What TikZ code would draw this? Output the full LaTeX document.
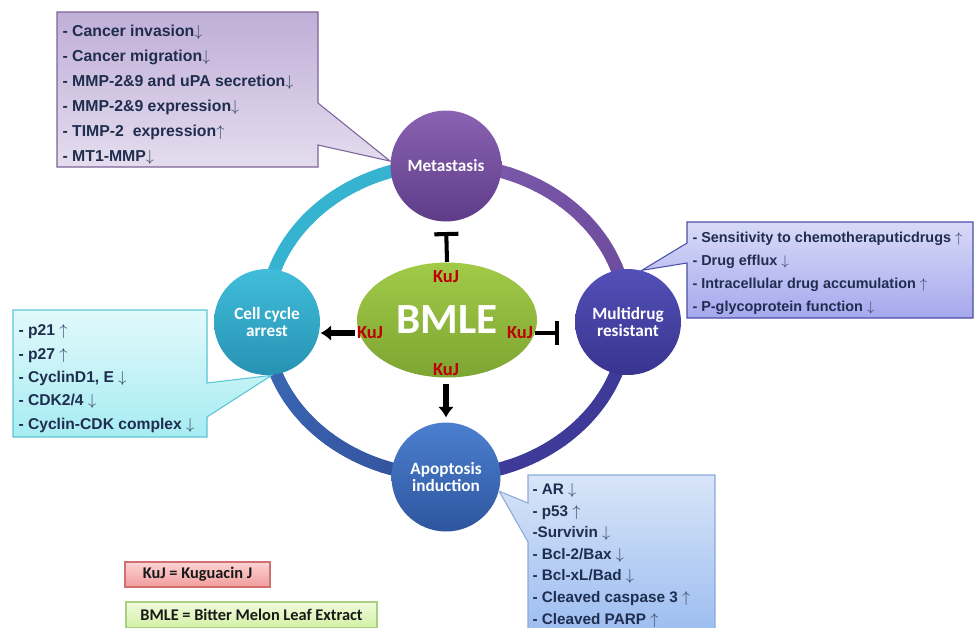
\documentclass[tikz,border=0pt]{standalone}
\usepackage{fontspec}
\setmainfont{Liberation Sans}
\newfontfamily\calibfont{Carlito}
\usepackage{tikz}
\usetikzlibrary{positioning}
\usetikzlibrary{shapes.geometric,arrows.meta}

\definecolor{ringteal}{HTML}{36B3CF}
\definecolor{ringpurple}{HTML}{7D5AAB}
\definecolor{ringpurpleb}{HTML}{6A4A9C}
\definecolor{ringindigo}{HTML}{3D3A98}
\definecolor{ringblue}{HTML}{3B6AB6}
\definecolor{ringblueb}{HTML}{34509C}
\definecolor{metlight}{HTML}{8A63B2}
\definecolor{metdark}{HTML}{5E3C88}
\definecolor{ccalight}{HTML}{40BDDA}
\definecolor{ccadark}{HTML}{2792B3}
\definecolor{mdrlight}{HTML}{5250B8}
\definecolor{mdrdark}{HTML}{38348E}
\definecolor{apolight}{HTML}{4B80CF}
\definecolor{apodark}{HTML}{2E559E}
\definecolor{bmlelight}{HTML}{A2CA48}
\definecolor{bmledark}{HTML}{7DA532}
\definecolor{kujred}{HTML}{C00000}
\definecolor{itemtext}{HTML}{1F2D4E}
\definecolor{arrowcol}{HTML}{3C4C6C}
\definecolor{metedge}{HTML}{7E6399}
\definecolor{metboxtop}{HTML}{C0AED7}
\definecolor{metboxbot}{HTML}{E4DDEE}
\definecolor{mdredge}{HTML}{4B4FA8}
\definecolor{mdrboxtop}{HTML}{D8DAF8}
\definecolor{mdrboxbot}{HTML}{A6A8EE}
\definecolor{ccaedge}{HTML}{5BC4D4}
\definecolor{ccaboxtop}{HTML}{E2F9FB}
\definecolor{ccaboxbot}{HTML}{A6ECF2}
\definecolor{apoedge}{HTML}{8AAAD8}
\definecolor{apoboxtop}{HTML}{D8E5F8}
\definecolor{apoboxbot}{HTML}{98BAF0}
\definecolor{kujedge}{HTML}{D07070}
\definecolor{kujtop}{HTML}{FBD4D4}
\definecolor{kujbot}{HTML}{F29C9C}
\definecolor{bmleedge}{HTML}{A8D080}
\definecolor{bmletop}{HTML}{F0FBDC}
\definecolor{bmlebot}{HTML}{D2F0A4}

\newcommand{\dnar}{{\color{arrowcol}$\downarrow$}}
\newcommand{\upar}{{\color{arrowcol}$\uparrow$}}

\begin{document}
\begin{tikzpicture}[x = 0.02cm, y = -0.02cm, semithick,
                    stage/.style  = {circle,
                                     minimum size = 2.12cm,
                                     text = white,
                                     align = center,
                                     font = \calibfont\bfseries\fontsize{9.8}{10.2}\selectfont},
                    kuj/.style    = {text = kujred,
                                     inner sep = 1pt,
                                     font = \calibfont\bfseries\fontsize{10.5}{12}\selectfont},
                    ring/.style   = {line width = 7.4pt},
                    items/.style 2 args = {anchor = west,
                                     align = left,
                                     inner sep = 0pt,
                                     text = itemtext,
                                     font = \bfseries\fontsize{#1}{#2}\selectfont},
                    act/.style    = {-{Latex[length = 6pt, width = 9pt]}, line width = 3.4pt},
                    inh/.style    = {-{Bar[width = 13.7pt]}, line width = 2.3pt},
                    legend/.style = {draw,
                                     minimum height = 0.5cm,
                                     inner sep = 0pt,
                                     text = black!90,
                                     font = \calibfont\bfseries\fontsize{9.3}{11}\selectfont}]

\useasboundingbox (0,0) rectangle (977,627);

% ring around the four effects
\foreach \sa/\ca/\cb in {180/ringteal/ringteal, 270/ringpurple/ringpurpleb,
                         0/ringindigo/ringindigo, 90/ringblueb/ringblue}
  \foreach \i in {0,...,8} {
    \pgfmathsetmacro{\pct}{100-\i*12.5}
    \draw[ring, color = \ca!\pct!\cb] (446,320) ++(\sa+\i*10:181 and 156)
      arc[start angle = \sa+\i*10, end angle = \sa+\i*10+10.5, x radius = 181, y radius = 156];
  }

\node[stage, top color = metlight, bottom color = metdark, minimum size = 2.22cm] (met) at (446,166) {Metastasis};
\node[stage, top color = ccalight, bottom color = ccadark] (cca) at (267,322) {Cell cycle\\arrest};
\node[stage, top color = mdrlight, bottom color = mdrdark] (mdr) at (628,322) {Multidrug\\resistant};
\node[stage, top color = apolight, bottom color = apodark, minimum size = 2.18cm] (apo) at (446,477) {Apoptosis\\induction};

\node[ellipse, minimum width = 3.6cm, minimum height = 2.3cm,
      top color = bmlelight, bottom color = bmledark, text = white,
      font = \calibfont\bfseries\fontsize{24.5}{28}\selectfont] (bmle) at (447,320) {BMLE};

\node[kuj] (kujt) at (446,277) {KuJ};
\node[kuj] (kujl) at (370,333) {KuJ};
\node[kuj] (kujr) at (520,333) {KuJ};
\node[kuj] (kujb) at (446,370) {KuJ};

\draw[inh, shorten >= 0.2cm] (bmle.north) -- (met.south);
\draw[act] (kujl.west) -- (cca.east |- kujl.west);
\draw[inh, shorten >= 0.31cm] (kujr.east) -- (mdr.west |- kujr.east);
\draw[act, shorten <= 0.12cm, shorten >= 0.09cm] (kujb.south) -- (apo.north);

% callouts
\path[draw = metedge, top color = metboxtop, bottom color = metboxbot]
  (57,12) -- (318,12) -- (318,103) -- (met.175) -- (318,145) -- (318,167) -- (57,167) -- cycle;
\path[draw = mdredge, top color = mdrboxtop, bottom color = mdrboxbot]
  (687,222) -- (973,222) -- (973,318) -- (687,318) -- (687,263) -- (mdr.75) -- (687,243) -- cycle;
\path[draw = ccaedge, top color = ccaboxtop, bottom color = ccaboxbot]
  (13,310) -- (207,310) -- (207,383) -- (cca.275) -- (207,417) -- (207,437) -- (13,437) -- cycle;
\path[draw = apoedge, top color = apoboxtop, bottom color = apoboxbot]
  (528,475) -- (715,475) -- (715,645) -- (528,645) -- (528,542) -- (apo.345) -- (528,503) -- cycle;

\node[items = {9}{14.2}] (metlist) at (62,94.5)
  {- Cancer invasion\dnar\\- Cancer migration\dnar\\- MMP-2\&9 and uPA secretion\dnar\\
   - MMP-2\&9 expression\dnar\\- TIMP-2\ \ expression\upar\\- MT1-MMP\dnar};
\node[items = {8.2}{13.2}] (mdrlist) at (692,273.3)
  {- Sensitivity to chemotheraputicdrugs \upar\\- Drug efflux \dnar\\
   - Intracellular drug accumulation \upar\\- P-glycoprotein function \dnar};
\node[items = {8.9}{13.3}] (ccalist) at (18,378.5)
  {- p21 \upar\\- p27 \upar\\- CyclinD1, E \dnar\\- CDK2/4 \dnar\\- Cyclin-CDK complex \dnar};
\node[items = {8.7}{12.3}] (apolist) at (532,555.3)
  {- AR \dnar\\- p53 \upar\\-Survivin \dnar\\- Bcl-2/Bax \dnar\\- Bcl-xL/Bad \dnar\\
   - Cleaved caspase 3 \upar\\- Cleaved PARP \upar};

% key
\node[legend, draw = kujedge, top color = kujtop, bottom color = kujbot,
      minimum width = 2.9cm] (kujkey) at (197.5,574.5) {KuJ = Kuguacin J};
\node[legend, draw = bmleedge, top color = bmletop, bottom color = bmlebot,
      minimum width = 5.02cm, minimum height = 0.52cm] (bmlekey) at (251.5,615) {BMLE = Bitter Melon Leaf Extract};

\end{tikzpicture}
\end{document}
